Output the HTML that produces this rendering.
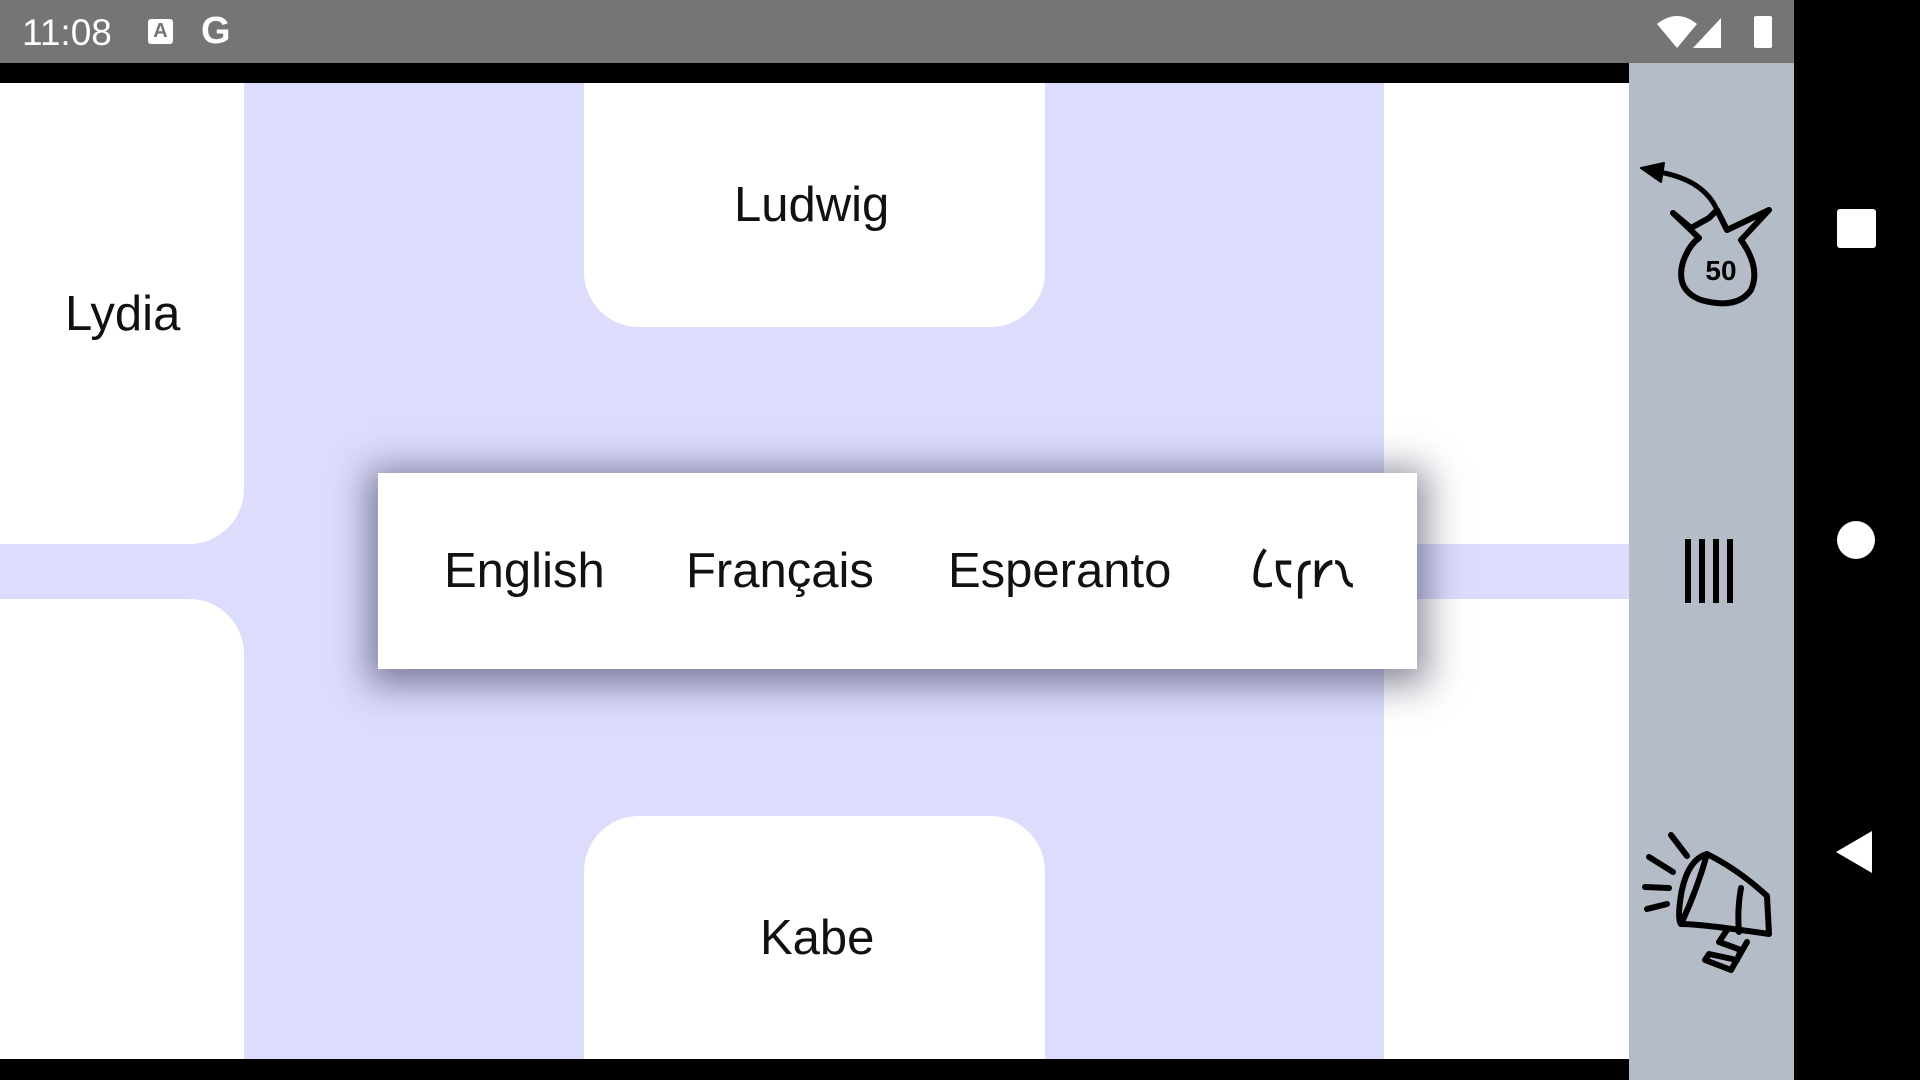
<!DOCTYPE html>
<html><head><meta charset="utf-8"><style>
*{margin:0;padding:0;box-sizing:border-box}
body{width:1920px;height:1080px;position:relative;overflow:hidden;background:#fff;font-family:"Liberation Sans","DejaVu Sans",sans-serif}
.a{position:absolute}
.t{position:absolute;font-size:49px;color:#111;white-space:nowrap;line-height:1}
</style></head><body>
<div class="a" style="left:0;top:0;width:1794px;height:63px;background:#757575"></div>
<div class="a" style="left:22px;top:12px;font-size:37px;color:#fff">11:08</div>
<div class="a" style="left:148px;top:19px;width:25px;height:25px;background:#fff;border-radius:3px;color:#757575;font-size:20px;font-weight:bold;text-align:center;line-height:25px">A</div>
<div class="a" style="left:201px;top:10px;font-size:38px;color:#fff;font-weight:bold">G</div>
<svg class="a" style="left:1655px;top:12px" width="130" height="40">
<path d="M2 12 Q22 -4 42 12 L22 36Z" fill="#fff"/>
<path d="M66 36 L66 6 L38 36Z" fill="#fff"/>
<rect x="99" y="4" width="18" height="32" rx="2" fill="#fff"/>
</svg>
<div class="a" style="left:1794px;top:0;width:126px;height:1080px;background:#000"></div>
<div class="a" style="left:1837px;top:209px;width:39px;height:39px;background:#fff;border-radius:3px"></div>
<div class="a" style="left:1837px;top:521px;width:38px;height:38px;background:#fff;border-radius:50%"></div>
<svg class="a" style="left:1834px;top:831px" width="40" height="42"><path d="M38 0 L38 42 L2 21Z" fill="#fff"/></svg>

<div class="a" style="left:0;top:63px;width:1629px;height:20px;background:#000"></div>
<div class="a" style="left:0;top:1059px;width:1629px;height:21px;background:#000"></div>
<div class="a" style="left:1629px;top:63px;width:165px;height:1017px;background:#b4bcc8"></div>

<div class="a" style="left:244px;top:83px;width:1140px;height:976px;background:#dcdcfc"></div>
<div class="a" style="left:0;top:470px;width:300px;height:200px;background:#dcdcfc"></div>
<div class="a" style="left:0;top:544px;width:1629px;height:55px;background:#dcdcfc"></div>
<div class="a" style="left:0;top:83px;width:244px;height:461px;background:#fff;border-bottom-right-radius:55px"></div>
<div class="a" style="left:0;top:599px;width:244px;height:460px;background:#fff;border-top-right-radius:55px"></div>
<div class="a" style="left:1384px;top:83px;width:245px;height:461px;background:#fff"></div>
<div class="a" style="left:1384px;top:599px;width:245px;height:460px;background:#fff"></div>
<div class="a" style="left:584px;top:83px;width:461px;height:244px;background:#fff;border-radius:0 0 55px 55px"></div>
<div class="a" style="left:584px;top:816px;width:461px;height:243px;background:#fff;border-radius:55px 55px 0 0"></div>
<div class="t" style="left:65px;top:290px">Lydia</div>
<div class="t" style="left:734px;top:181px">Ludwig</div>
<div class="t" style="left:760px;top:914px">Kabe</div>

<div class="a" style="left:378px;top:473px;width:1039px;height:196px;background:#fff;box-shadow:0 6px 34px 10px rgba(30,30,60,0.5)"></div>
<div class="t" style="left:444px;top:547px">English</div>
<div class="t" style="left:686px;top:547px">Français</div>
<div class="t" style="left:948px;top:547px">Esperanto</div>
<div class="t" style="left:1251px;top:547px">𐑖𐑱𐑝𐑾𐑯</div>

<svg class="a" style="left:1629px;top:150px" width="165" height="170" fill="none" stroke="#000" stroke-linecap="round" stroke-linejoin="round">
<path d="M30 22 Q75 30 88 60" stroke-width="5"/>
<path d="M12 18 L35 13 L32 32Z" fill="#000" stroke-width="2"/>
<path d="M44 63 L62 78 L80 68 L88 60 L98 80 L140 60 L112 90 Q132 118 122 140 Q108 160 72 150 Q46 140 54 112 Q60 95 70 88 Z" stroke-width="6"/>
<text x="92" y="130" font-family="Liberation Sans" font-size="28" font-weight="bold" fill="#000" stroke="none" text-anchor="middle">50</text>
</svg>
<svg class="a" style="left:1682px;top:537px" width="60" height="68" stroke="#000" stroke-width="6">
<line x1="6" y1="2" x2="6" y2="66"/><line x1="20" y1="2" x2="20" y2="66"/><line x1="34" y1="2" x2="34" y2="66"/><line x1="48" y1="2" x2="48" y2="66"/>
</svg>
<svg class="a" style="left:1629px;top:820px" width="165" height="160" fill="none" stroke="#000" stroke-width="6" stroke-linecap="round" stroke-linejoin="round">
<line x1="42" y1="15" x2="58" y2="36"/><line x1="20" y1="37" x2="44" y2="52"/><line x1="16" y1="67" x2="40" y2="68"/><line x1="18" y1="89" x2="38" y2="84"/>
<path d="M78 34 Q58 40 52 75 Q48 100 52 104 Q72 104 140 114 L138 76 Q110 50 78 34Z"/>
<path d="M78 34 Q68 70 52 104"/>
<path d="M112 68 Q108 90 110 112"/>
<path d="M98 110 L90 122 L112 130 L108 140 L80 134 L76 140 L102 150 L118 122"/>
</svg>
</body></html>
